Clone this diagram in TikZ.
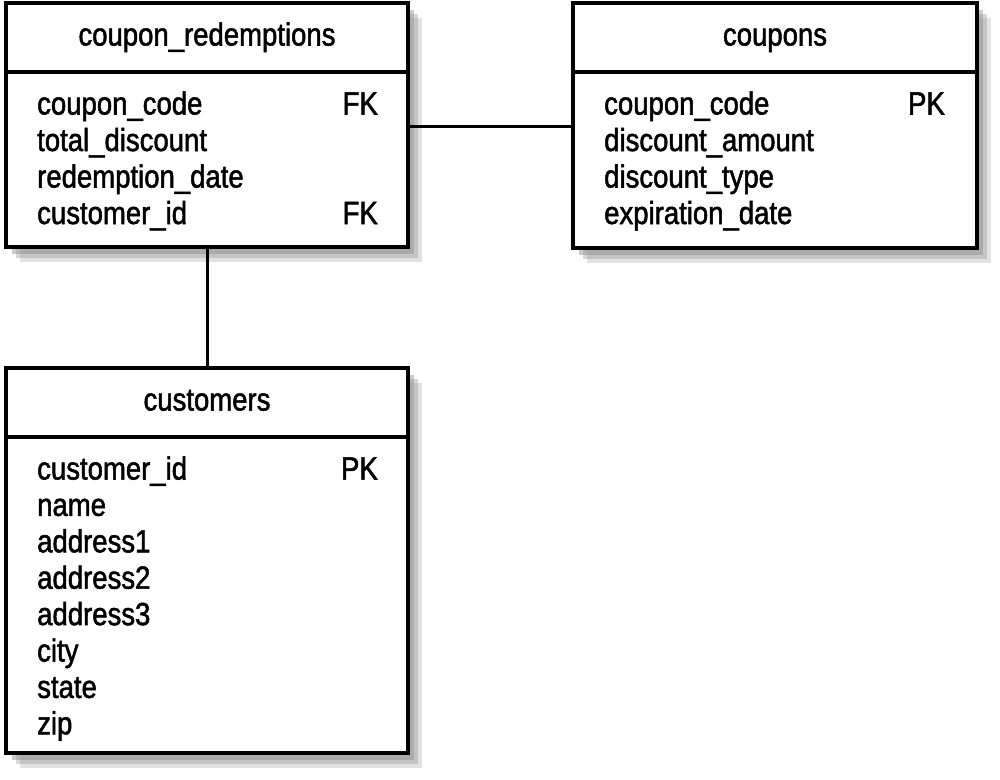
\documentclass[tikz,border=0pt]{standalone}
\usepackage{fontspec}
\setmainfont[FakeStretch=0.86, FakeBold=1.6]{Liberation Sans}
\usetikzlibrary{shadows,calc}
\definecolor{shadowgray}{rgb}{0.55, 0.55, 0.55}

\tikzset{
  tablepart/.style={draw, line width=3.5pt, fill=white, inner sep=0pt, outer sep=0pt,
    minimum width=402pt, font=\fontsize{32}{36.5}\selectfont, text height=23pt, text depth=7pt,
    drop shadow={shadow xshift=14pt, shadow yshift=-15pt, fill=shadowgray, opacity=.25},
    drop shadow={shadow xshift=10pt, shadow yshift=-11pt, fill=shadowgray, opacity=.35},
    drop shadow={shadow xshift=6pt, shadow yshift=-7pt, fill=shadowgray, opacity=.45}},
  fieldtext/.style={font=\fontsize{32}{36.5}\selectfont, inner sep=0pt},
  link/.style={line width=3pt},
}

\begin{document}
\begin{tikzpicture}[x=1pt, y=-1pt]
    \useasboundingbox (0,0) rectangle (1000,779);

    % coupon_redemptions
    \node [tablepart, minimum height=69pt, anchor=north west] (redeemhead) at (6,3) {coupon\_redemptions};
    \node [tablepart, minimum height=175pt, anchor=north] (redeembody) at (redeemhead.south) {};
    \foreach \f [count=\i from 0] in {coupon\_code, total\_discount, redemption\_date, customer\_id}
        \node [fieldtext, anchor=base west] (redeemf\i) at ($(redeembody.north west)+(31,42.5+36.5*\i)$) {\f};
    \node [fieldtext, anchor=base east] (redeemk0) at ($(redeembody.north east)+(-30,42.5)$) {FK};
    \node [fieldtext, anchor=base east] (redeemk3) at ($(redeembody.north east)+(-30,42.5+36.5*3)$) {FK};

    % coupons
    \node [tablepart, minimum width=404pt, minimum height=69pt, anchor=north west] (couponshead) at (573,3) {coupons};
    \node [tablepart, minimum width=404pt, minimum height=176pt, anchor=north] (couponsbody) at (couponshead.south) {};
    \foreach \f [count=\i from 0] in {coupon\_code, discount\_amount, discount\_type, expiration\_date}
        \node [fieldtext, anchor=base west] (couponsf\i) at ($(couponsbody.north west)+(31,42.5+36.5*\i)$) {\f};
    \node [fieldtext, anchor=base east] (couponsk0) at ($(couponsbody.north east)+(-32,42.5)$) {PK};

    % customers
    \node [tablepart, minimum height=69pt, anchor=north west] (custhead) at (6,368) {customers};
    \node [tablepart, minimum height=316pt, anchor=north] (custbody) at (custhead.south) {};
    \foreach \f [count=\i from 0] in {customer\_id, name, address1, address2, address3, city, state, zip}
        \node [fieldtext, anchor=base west] (custf\i) at ($(custbody.north west)+(31,42.5+36.4*\i)$) {\f};
    \node [fieldtext, anchor=base east] (custk0) at ($(custbody.north east)+(-30,42.5)$) {PK};

    % relations
    \coordinate (redeemlink) at ($(redeembody.north east)!.31!(redeembody.south east)$);
    \draw [link] (redeemlink) -- (redeemlink -| couponsbody.west);
    \draw [link] (redeembody.south) -- (custhead.north);
\end{tikzpicture}
\end{document}
